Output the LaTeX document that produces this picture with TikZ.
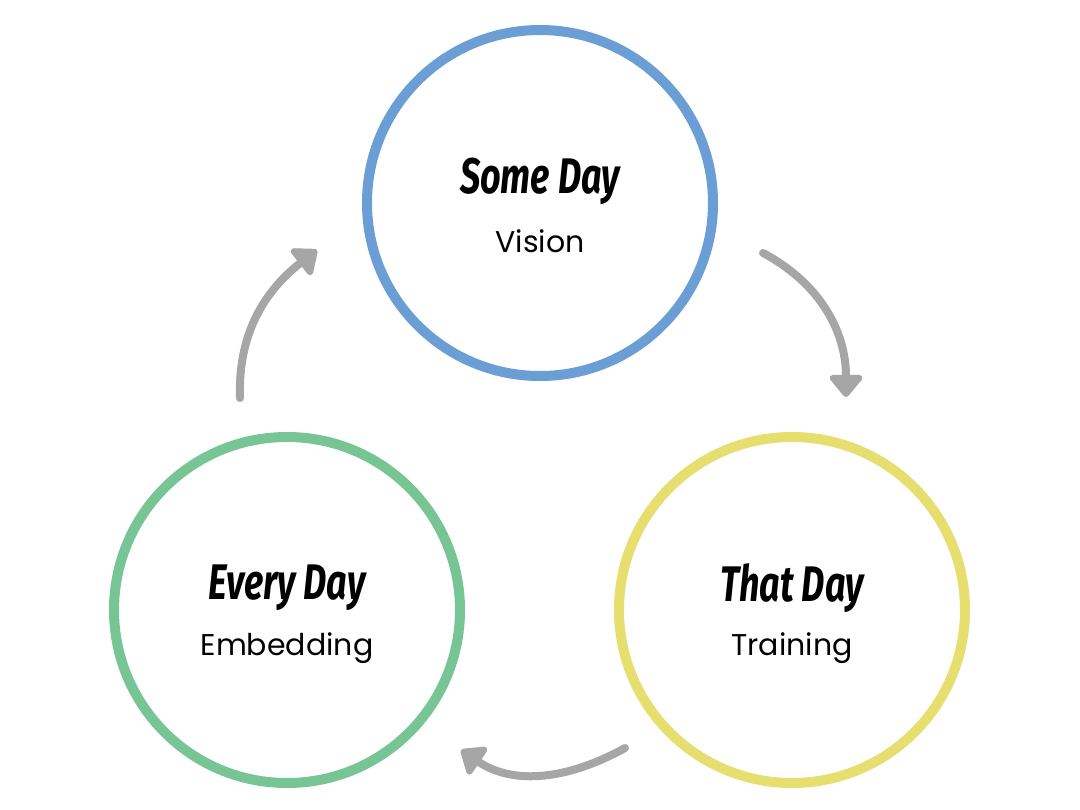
\documentclass[tikz,border=0pt]{standalone}
\usepackage{fontspec}
\usetikzlibrary{arrows.meta}
\newfontfamily\titlefont[FakeStretch=0.72]{Fira Sans}
\newfontfamily\subfont{Poppins}
\definecolor{dayblue}{RGB}{106,158,213}
\definecolor{daygreen}{RGB}{119,197,149}
\definecolor{dayyellow}{RGB}{230,223,112}
\definecolor{arrowgray}{RGB}{166,166,166}
\tikzset{
  daycircle/.style={circle, line width=10pt, minimum size=346pt, inner sep=0pt},
  daytitle/.style={font=\titlefont\bfseries\itshape\fontsize{50}{50}\selectfont},
  daysub/.style={font=\subfont\fontsize{30}{30}\selectfont},
  cyclearrow/.style={arrowgray, line width=8pt, line cap=round,
    -{Triangle[length=24pt,width=38pt,round]}},
}
\begin{document}
\begin{tikzpicture}[x=1pt, y=1pt]
  \useasboundingbox (0,0) rectangle (1080,-810);
  % drei Kreise
  \node[daycircle, draw=dayblue] (some) at (540,-203) {};
  \node[daycircle, draw=daygreen] (every) at (287,-610) {};
  \node[daycircle, draw=dayyellow] (that) at (792,-610) {};

  % Beschriftung
  \node[daytitle] (sometitle) at ([yshift=22pt]some.center) {Some Day};
  \node[daysub] (somesub) at ([yshift=-38pt]some.center) {Vision};
  \node[daytitle] (everytitle) at ([yshift=22pt]every.center) {Every Day};
  \node[daysub] (everysub) at ([yshift=-38pt]every.center) {Embedding};
  \node[daytitle] (thattitle) at ([yshift=22pt]that.center) {That Day};
  \node[daysub] (thatsub) at ([yshift=-38pt]that.center) {Training};

  % Enden der Pfeile
  \coordinate (a1) at (763,-253);
  \coordinate (b1) at (846,-397);
  \coordinate (a2) at (625,-748);
  \coordinate (b2) at (461,-750);
  \coordinate (a3) at (240,-398);
  \coordinate (b3) at (317,-250);

  % Kreislauf
  \draw[cyclearrow] (a1) to[out=-28, in=90] (b1);
  \draw[cyclearrow] (a2) to[out=-151, in=-34] (b2);
  \draw[cyclearrow] (a3) to[out=92, in=-142] (b3);
\end{tikzpicture}
\end{document}
